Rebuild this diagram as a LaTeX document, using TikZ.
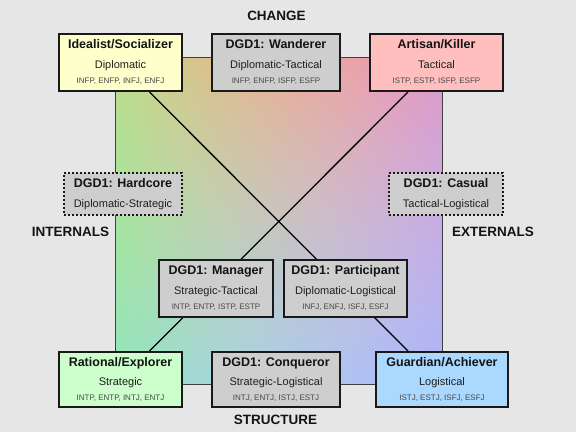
\documentclass[tikz,border=0pt]{standalone}
\usepackage{fontspec}
\setmainfont{Liberation Sans}
\usepackage{tikz}
\usetikzlibrary{backgrounds}
\definecolor{bggray}{HTML}{E6E6E6}
\definecolor{idealfill}{HTML}{FFFFCC}
\definecolor{artisanfill}{HTML}{FFBFBF}
\definecolor{rationalfill}{HTML}{CCFFCC}
\definecolor{guardianfill}{HTML}{AAD8FF}
\definecolor{dgdfill}{HTML}{CECECE}
% one colour channel of the 3x3 colour grid (BL L TL B C T BR R TR)
\newcommand{\planechannel}[9]{0
 6 index 4 index mul #1 mul add 6 index 3 index mul #2 mul add 6 index 2 index mul #3 mul add
 5 index 4 index mul #4 mul add 5 index 3 index mul #5 mul add 5 index 2 index mul #6 mul add
 4 index 4 index mul #7 mul add 4 index 3 index mul #8 mul add 4 index 2 index mul #9 mul add
 7 1 roll}
\pgfdeclarefunctionalshading{temperament}{\pgfpoint{0bp}{0bp}}{\pgfpoint{100bp}{100bp}}{}{
  25 div 2 sub exch 25 div 2 sub
  dup dup 1 sub mul 2 div 1 index dup mul 1 exch sub 2 index dup 1 add mul 2 div
  4 -1 roll pop 4 -1 roll
  dup dup 1 sub mul 2 div 1 index dup mul 1 exch sub 2 index dup 1 add mul 2 div
  4 -1 roll pop
  \planechannel{0.569}{0.647}{0.745}{0.667}{0.784}{0.910}{0.675}{0.776}{0.882}
  \planechannel{0.894}{0.894}{0.863}{0.804}{0.769}{0.686}{0.706}{0.675}{0.588}
  \planechannel{0.745}{0.627}{0.549}{0.910}{0.753}{0.588}{0.973}{0.894}{0.784}
  pop pop pop pop pop pop
}
\begin{document}
\begin{tikzpicture}[x=1pt, y=-1pt]
\tikzstyle{main}=[rectangle, draw=black!90, line width=2pt, inner sep=0pt, minimum height=57pt]
\tikzstyle{dgd}=[main, fill=dgdfill]
\tikzstyle{dotbox}=[dgd, dash pattern=on 2pt off 2pt, minimum height=42pt]
\tikzstyle{head}=[inner sep=0pt, anchor=base, text=black!92, font=\fontsize{12.5}{14}\selectfont\bfseries]
\tikzstyle{kind}=[inner sep=0pt, anchor=base, text=black!88, font=\fontsize{11}{13}\selectfont]
\tikzstyle{types}=[inner sep=0pt, anchor=base, text=black!72, font=\fontsize{8}{9}\selectfont]
\tikzstyle{axisname}=[inner sep=0pt, text=black!92, font=\fontsize{13.5}{15}\selectfont\bfseries]
\tikzstyle{connect}=[line width=1.3pt, black]

  % top row
  \node[main, fill=idealfill, minimum width=123pt] (idealist) at (120.5,62.5) {};
  \node[head]  (idealistH) at ([yshift=-15.5pt]idealist.north) {Idealist/Socializer};
  \node[kind]  (idealistK) at ([yshift=-35pt]idealist.north)   {Diplomatic};
  \node[types] (idealistT) at ([yshift=-50pt]idealist.north)   {INFP, ENFP, INFJ, ENFJ};

  \node[dgd, minimum width=128pt] (wanderer) at (276,62.5) {};
  \node[head]  (wandererH) at ([yshift=-15.5pt]wanderer.north) {DGD1: Wanderer};
  \node[kind]  (wandererK) at ([yshift=-35pt]wanderer.north)   {Diplomatic-Tactical};
  \node[types] (wandererT) at ([yshift=-50pt]wanderer.north)   {INFP, ENFP, ISFP, ESFP};

  \node[main, fill=artisanfill, minimum width=133pt] (artisan) at (436.5,62.5) {};
  \node[head]  (artisanH) at ([yshift=-15.5pt]artisan.north) {Artisan/Killer};
  \node[kind]  (artisanK) at ([yshift=-35pt]artisan.north)   {Tactical};
  \node[types] (artisanT) at ([yshift=-50pt]artisan.north)   {ISTP, ESTP, ISFP, ESFP};

  % middle row
  \node[dotbox, minimum width=118pt] (hardcore) at (123,194) {};
  \node[head] (hardcoreH) at ([yshift=-15.5pt]hardcore.north) {DGD1: Hardcore};
  \node[kind] (hardcoreK) at ([yshift=-35pt]hardcore.north)   {Diplomatic-Strategic};

  \node[dotbox, minimum width=114pt] (casual) at (446,194) {};
  \node[head] (casualH) at ([yshift=-15.5pt]casual.north) {DGD1: Casual};
  \node[kind] (casualK) at ([yshift=-35pt]casual.north)   {Tactical-Logistical};

  \node[dgd, minimum width=114pt] (manager) at (216,288.5) {};
  \node[head]  (managerH) at ([yshift=-15.5pt]manager.north) {DGD1: Manager};
  \node[kind]  (managerK) at ([yshift=-35pt]manager.north)   {Strategic-Tactical};
  \node[types] (managerT) at ([yshift=-50pt]manager.north)   {INTP, ENTP, ISTP, ESTP};

  \node[dgd, minimum width=123pt] (participant) at (345.5,288.5) {};
  \node[head]  (participantH) at ([yshift=-15.5pt]participant.north) {DGD1: Participant};
  \node[kind]  (participantK) at ([yshift=-35pt]participant.north)   {Diplomatic-Logistical};
  \node[types] (participantT) at ([yshift=-50pt]participant.north)   {INFJ, ENFJ, ISFJ, ESFJ};

  % bottom row
  \node[main, fill=rationalfill, minimum width=123pt, minimum height=55pt] (rational) at (120.5,379.5) {};
  \node[head]  (rationalH) at ([yshift=-15pt]rational.north) {Rational/Explorer};
  \node[kind]  (rationalK) at ([yshift=-34pt]rational.north) {Strategic};
  \node[types] (rationalT) at ([yshift=-49pt]rational.north) {INTP, ENTP, INTJ, ENTJ};

  \node[dgd, minimum width=128pt, minimum height=55pt] (conqueror) at (276,379.5) {};
  \node[head]  (conquerorH) at ([yshift=-15pt]conqueror.north) {DGD1: Conqueror};
  \node[kind]  (conquerorK) at ([yshift=-34pt]conqueror.north) {Strategic-Logistical};
  \node[types] (conquerorT) at ([yshift=-49pt]conqueror.north) {INTJ, ENTJ, ISTJ, ESTJ};

  \node[main, fill=guardianfill, minimum width=132pt, minimum height=55pt] (guardian) at (442,379.5) {};
  \node[head]  (guardianH) at ([yshift=-15pt]guardian.north) {Guardian/Achiever};
  \node[kind]  (guardianK) at ([yshift=-34pt]guardian.north) {Logistical};
  \node[types] (guardianT) at ([yshift=-49pt]guardian.north) {ISTJ, ESTJ, ISFJ, ESFJ};

  % axis names
  \node[axisname] (change)    at (276.5,16.3) {CHANGE};
  \node[axisname] (structure) at (275.5,420)  {STRUCTURE};
  \node[axisname] (internals) at (70.5,231.7) {INTERNALS};
  \node[axisname] (externals) at (493,231.7)  {EXTERNALS};

  \begin{pgfonlayer}{background}
    \fill[bggray] (0,0) rectangle (576,432);
    \shade[shading=temperament, draw=black!75, line width=0.8pt] (115,57) rectangle (442,384);
    \path ([xshift=29pt]idealist.south) edge [connect] ([xshift=-34pt]guardian.north);
    \path ([xshift=-28.5pt]artisan.south) edge [connect] ([xshift=29pt]rational.north);
  \end{pgfonlayer}

\end{tikzpicture}
\end{document}
